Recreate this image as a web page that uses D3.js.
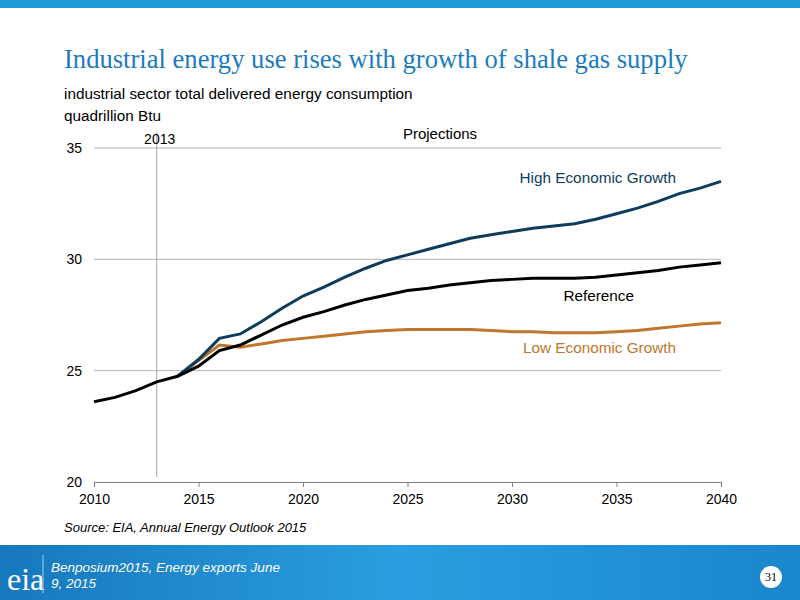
<!DOCTYPE html>
<html><head><meta charset="utf-8">
<script src="https://cdn.jsdelivr.net/npm/d3@7"></script>
<style>body{margin:0}svg{display:block;font-family:"Liberation Sans",Arial,sans-serif}</style>
</head><body><svg id="c" width="800" height="600"></svg>
<script>
// --- data ---
const years = d3.range(2010, 2041);
const reference = [23.6,23.8,24.1,24.5,24.75,25.2,25.9,26.15,26.6,27.05,27.4,27.65,27.95,28.2,28.4,28.6,28.7,28.85,28.95,29.05,29.1,29.15,29.15,29.15,29.2,29.3,29.4,29.5,29.65,29.75,29.85];
const highGrowth = [null,null,null,null,24.75,25.5,26.45,26.65,27.2,27.8,28.35,28.75,29.2,29.6,29.95,30.2,30.45,30.7,30.95,31.1,31.25,31.4,31.5,31.6,31.8,32.05,32.3,32.6,32.95,33.2,33.5];
const lowGrowth = [null,null,null,null,24.75,25.45,26.15,26.05,26.2,26.35,26.45,26.55,26.65,26.75,26.8,26.85,26.85,26.85,26.85,26.8,26.75,26.75,26.7,26.7,26.7,26.75,26.8,26.9,27.0,27.1,27.15];
const xTicks = [2010,2015,2020,2025,2030,2035,2040];
const yTicks = [20,25,30,35];

const svg = d3.select('#c');
svg.append('rect').attr('width',800).attr('height',8).attr('fill','#1e9ad6');

// footer band
const grad = svg.append('defs').append('linearGradient').attr('id','fg');
grad.append('stop').attr('offset','0').attr('stop-color','#1778bd');
grad.append('stop').attr('offset','0.5').attr('stop-color','#2a9ee0');
grad.append('stop').attr('offset','1').attr('stop-color','#1a86cc');
svg.append('rect').attr('y',545).attr('width',800).attr('height',55).attr('fill','url(#fg)');
svg.append('text').attr('x',7).attr('y',590).attr('fill','#fff').attr('font-family','Liberation Serif')
  .attr('font-size',32).text('eia');
svg.append('line').attr('x1',43).attr('x2',43).attr('y1',555).attr('y2',593).attr('stroke','#9fd3f0');
svg.append('text').attr('x',51).attr('y',572).attr('fill','#fff').attr('font-size',13.5).attr('font-style','italic')
  .text('Benposium2015, Energy exports June');
svg.append('text').attr('x',51).attr('y',588).attr('fill','#fff').attr('font-size',13.5).attr('font-style','italic')
  .text('9, 2015');
svg.append('circle').attr('cx',771).attr('cy',577).attr('r',11).attr('fill','#fff');
svg.append('text').attr('x',771).attr('y',581).attr('text-anchor','middle').attr('font-size',12)
  .attr('font-family','Liberation Serif').text('31');

// titles
svg.append('text').attr('x',64).attr('y',68).attr('fill','#1b7bc0').attr('font-family','Liberation Serif')
  .attr('font-size',26.6).text('Industrial energy use rises with growth of shale gas supply');
svg.append('text').attr('x',64).attr('y',99).attr('font-size',15.3).text('industrial sector total delivered energy consumption');
svg.append('text').attr('x',64).attr('y',121).attr('font-size',15.3).text('quadrillion Btu');

const x = d3.scaleLinear().domain([2010,2040]).range([94,721]);
const y = d3.scaleLinear().domain([20,35]).range([482,148]);

// gridlines
svg.append('g').selectAll('line').data(yTicks.slice(1)).join('line')
  .attr('x1',94).attr('x2',721).attr('y1',d=>y(d)).attr('y2',d=>y(d)).attr('stroke','#b3b3b3');

const xa = svg.append('g').attr('transform','translate(0,482)')
  .call(d3.axisBottom(x).tickValues(xTicks).tickFormat(d3.format('d')).tickSize(5));
xa.selectAll('text').attr('font-size',14).attr('dy','1em').attr('fill','#000');
xa.selectAll('line,path').attr('stroke','#808080');
const ya = svg.append('g').attr('transform','translate(94,0)')
  .call(d3.axisLeft(y).tickValues(yTicks).tickSize(0).tickPadding(12));
ya.select('.domain').remove();
ya.selectAll('text').attr('font-size',14).attr('fill','#000');

// 2013 marker
svg.append('line').attr('x1',x(2013)).attr('x2',x(2013)).attr('y1',132).attr('y2',477).attr('stroke','#a6a6a6');
svg.append('text').attr('x',x(2013)+3).attr('y',144).attr('text-anchor','middle').attr('font-size',14).text('2013');
svg.append('text').attr('x',440).attr('y',139).attr('text-anchor','middle').attr('font-size',15).text('Projections');

const line = d3.line().defined(d=>d!=null).x((d,i)=>x(years[i])).y(d=>y(d));
[[lowGrowth,'#c0762c'],[highGrowth,'#0d3c5c'],[reference,'#000']].forEach(([s,c])=>{
  svg.append('path').attr('d',line(s)).attr('fill','none').attr('stroke',c).attr('stroke-width',3);
});

svg.append('text').attr('x',676).attr('y',183).attr('text-anchor','end').attr('fill','#0d3c5c').attr('font-size',15.3).text('High Economic Growth');
svg.append('text').attr('x',634).attr('y',301).attr('text-anchor','end').attr('font-size',15.3).text('Reference');
svg.append('text').attr('x',676).attr('y',353).attr('text-anchor','end').attr('fill','#c0762c').attr('font-size',15.3).text('Low Economic Growth');

svg.append('text').attr('x',64).attr('y',532).attr('font-size',13).attr('font-style','italic').text('Source:  EIA, Annual Energy Outlook 2015');
</script></body></html>
